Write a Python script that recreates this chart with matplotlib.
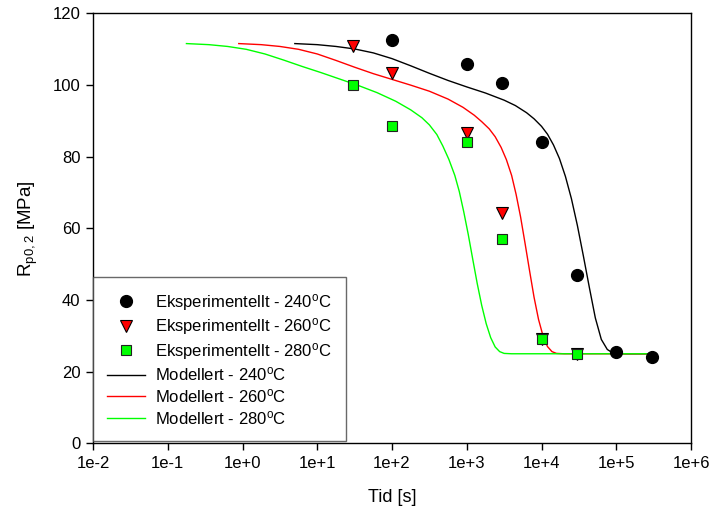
import numpy as np
import matplotlib
matplotlib.use("Agg")
import matplotlib.pyplot as plt
from matplotlib.ticker import FixedLocator, FixedFormatter, NullLocator

plt.rcParams['font.family'] = ['Liberation Sans', 'DejaVu Sans']
plt.rcParams['mathtext.fontset'] = 'custom'
plt.rcParams['mathtext.rm'] = 'Liberation Sans'
plt.rcParams['mathtext.sf'] = 'Liberation Sans'
plt.rcParams['mathtext.it'] = 'Liberation Sans:italic'
plt.rcParams['mathtext.bf'] = 'Liberation Sans:bold'
plt.rcParams['mathtext.default'] = 'regular'

# Experimental data
exp_240_t = [100, 1000, 3000, 1e4, 3e4, 1e5, 3e5]
exp_240_y = [112.5, 106.0, 100.6, 84.1, 47.0, 25.6, 24.1]
exp_260_t = [30, 100, 1000, 3000, 1e4, 3e4]
exp_260_y = [110.8, 103.4, 86.5, 64.4, 29.0, 25.0]
exp_280_t = [30, 100, 1000, 3000, 1e4, 3e4]
exp_280_y = [100.0, 88.6, 84.0, 57.0, 29.0, 25.0]

# Model curves (log10 time, value)
mod_240_logt = [0.70, 1.00, 1.25, 1.50, 1.75, 2.00, 2.25, 2.50, 2.75, 3.00, 3.25, 3.50,
                3.65, 3.80, 3.90, 4.00, 4.08, 4.16, 4.24, 4.32, 4.40, 4.48, 4.56, 4.64,
                4.72, 4.80, 4.88, 4.94, 5.00, 5.10, 5.50]
mod_240_y = [111.6, 111.3, 110.8, 110.1, 109.0, 107.4, 105.4, 103.3, 101.3, 99.5, 97.8, 95.8,
             94.3, 92.3, 90.6, 88.5, 86.3, 83.3, 79.5, 74.5, 68.3, 60.8, 52.3, 43.5,
             35.0, 29.0, 26.2, 25.4, 25.1, 25.0, 25.0]
mod_260_logt = [-0.05, 0.25, 0.50, 0.75, 1.00, 1.25, 1.50, 1.75, 2.00, 2.25, 2.50, 2.75,
                2.95, 3.10, 3.20, 3.30, 3.38, 3.46, 3.53, 3.60, 3.66, 3.72, 3.78, 3.84,
                3.90, 3.96, 4.02, 4.08, 4.14, 4.20, 4.30, 5.50]
mod_260_y = [111.6, 111.3, 110.8, 110.0, 108.7, 106.9, 105.0, 103.2, 101.6, 100.0, 98.3, 96.1,
             93.8, 91.6, 89.8, 87.8, 85.6, 82.6, 79.2, 74.8, 69.5, 63.2, 55.8, 48.2,
             40.8, 34.6, 30.0, 27.0, 25.6, 25.1, 25.0, 25.0]
mod_280_logt = [-0.75, -0.45, -0.20, 0.05, 0.30, 0.55, 0.80, 1.05, 1.30, 1.55, 1.80, 2.05,
                2.25, 2.40, 2.50, 2.60, 2.68, 2.76, 2.84, 2.90, 2.96, 3.02, 3.08, 3.14,
                3.20, 3.26, 3.32, 3.38, 3.44, 3.50, 3.60, 5.50]
mod_280_y = [111.6, 111.3, 110.8, 110.0, 108.7, 107.0, 105.2, 103.5, 101.7, 99.9, 97.9, 95.5,
             93.1, 90.9, 88.9, 86.2, 83.0, 79.3, 74.8, 70.3, 64.6, 58.3, 51.4, 44.6,
             38.5, 33.4, 29.5, 26.9, 25.6, 25.1, 25.0, 25.0]

xtick_vals = [1e-2, 1e-1, 1e0, 1e1, 1e2, 1e3, 1e4, 1e5, 1e6]
xtick_labels = ["1e-2", "1e-1", "1e+0", "1e+1", "1e+2", "1e+3", "1e+4", "1e+5", "1e+6"]
ytick_vals = [0, 20, 40, 60, 80, 100, 120]

fig = plt.figure(figsize=(7.11, 5.15), dpi=100)
ax = fig.add_axes([0.1308, 0.1392, 0.8411, 0.8346])

deg = r"$^{o}$C"
ax.plot(exp_240_t, exp_240_y, 'o', color='black', markersize=8.5, markeredgecolor='black',
        linestyle='none', label="Eksperimentellt - 240" + deg, zorder=5)
ax.plot(exp_260_t, exp_260_y, 'v', color='#ff0000', markersize=8.5, markeredgecolor='black',
        markeredgewidth=0.8, linestyle='none', label="Eksperimentellt - 260" + deg, zorder=5)
ax.plot(exp_280_t, exp_280_y, 's', color='#00ff00', markersize=7.5, markeredgecolor='#222222',
        markeredgewidth=0.8, linestyle='none', label="Eksperimentellt - 280" + deg, zorder=6)

ax.plot(10 ** np.array(mod_240_logt), mod_240_y, '-', color='black', lw=1.0,
        label="Modellert - 240" + deg, zorder=3)
ax.plot(10 ** np.array(mod_260_logt), mod_260_y, '-', color='#ff0000', lw=1.0,
        label="Modellert - 260" + deg, zorder=3)
ax.plot(10 ** np.array(mod_280_logt), mod_280_y, '-', color='#00ff00', lw=1.0,
        label="Modellert - 280" + deg, zorder=4)

ax.set_xscale('log')
ax.set_xlim(1e-2, 1e6)
ax.set_ylim(0, 120)
ax.xaxis.set_major_locator(FixedLocator(xtick_vals))
ax.xaxis.set_major_formatter(FixedFormatter(xtick_labels))
ax.xaxis.set_minor_locator(NullLocator())
ax.set_yticks(ytick_vals)
ax.tick_params(axis='both', direction='out', length=5, width=1, labelsize=12, pad=4)
for s in ax.spines.values():
    s.set_linewidth(1.0)

ax.set_xlabel("Tid [s]", fontsize=13, labelpad=13)
ax.set_ylabel(r"R$_{\mathsf{p0,2}}$ [MPa]", fontsize=13.5, labelpad=9)

leg = ax.legend(loc='lower left', bbox_to_anchor=(0.0, 0.005), borderaxespad=0,
                fontsize=12, frameon=True, fancybox=False, edgecolor='#444444',
                handlelength=2.3, handletextpad=0.6, labelspacing=0.22,
                borderpad=0.85, markerscale=1.0)
leg.get_frame().set_linewidth(1.0)

fig.savefig("out.png", dpi=100)
